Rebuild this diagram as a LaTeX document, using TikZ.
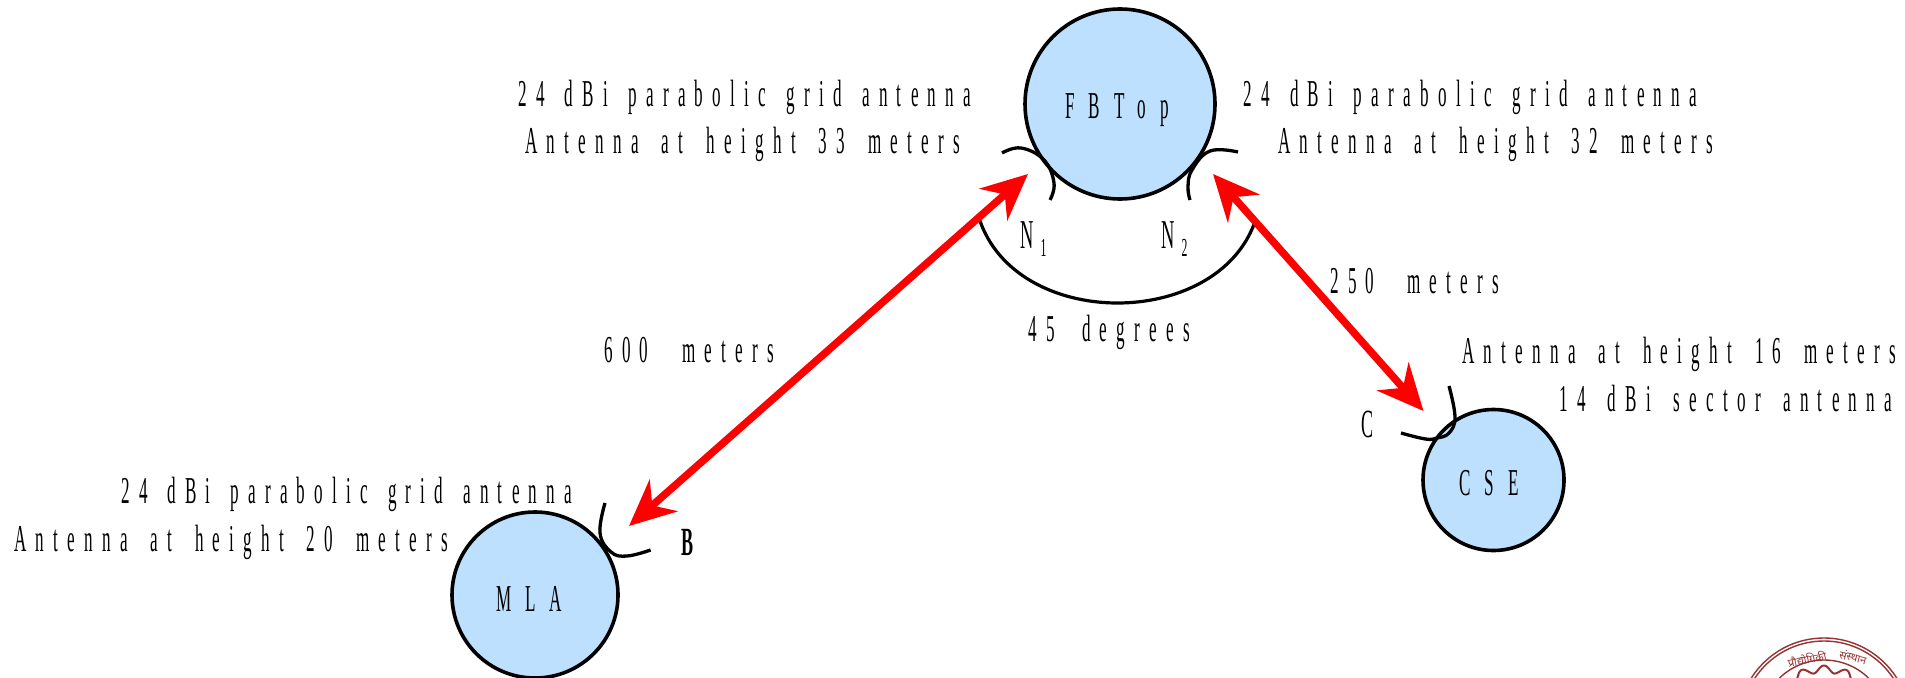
\documentclass[tikz,border=0pt]{standalone}
\usepackage{fontspec}
\setmainfont{Liberation Serif}
\newfontfamily\lbl[FakeStretch=0.45,LetterSpace=24.5]{Liberation Serif}
\newfontfamily\sitef[FakeStretch=0.45,LetterSpace=37]{Liberation Serif}
\newfontfamily\plainf[FakeStretch=0.45]{Liberation Serif}
\newfontfamily\hind[Script=Devanagari]{Noto Sans}
\usetikzlibrary{arrows.meta,calc}
\definecolor{sitefill}{RGB}{189,224,254}
\definecolor{logored}{RGB}{150,50,50}
\newcommand{\fitw}[2]{\makebox[#1pt][s]{#2}}
\tikzset{
 x=1pt,y=-1pt,
 site/.style={circle,draw=black,line width=3.6pt,fill=sitefill,inner sep=0pt},
 txt/.style={inner sep=0pt,font=\lbl\fontsize{38}{38}\selectfont,anchor=base west},
 sitetxt/.style={inner sep=0pt,font=\sitef\fontsize{38}{38}\selectfont,anchor=base west},
 dish/.style={draw=black,line width=3.3pt,line cap=butt},
 angarc/.style={draw=black,line width=3.2pt},
 link/.style={draw=red,line width=7.5pt,{Stealth[length=46pt,width=42pt,inset=15pt]}-{Stealth[length=46pt,width=42pt,inset=15pt]}},
 logo/.style={draw=logored,line width=1.4pt},
 logotxt/.style={inner sep=0pt,text=logored,font=\hind\fontsize{11}{11}\selectfont}
}
\begin{document}
\begin{tikzpicture}
\useasboundingbox (0,0) rectangle (1905,677);
\path[clip] (0,0) rectangle (1905,677);
% logo
\coordinate (lc) at (1824,724);
\draw[logo] (lc) circle (86);
\draw[logo] (lc) circle (83);
\draw[logo] (lc) circle (64);
\draw[logo,line width=2pt] plot[domain=-60:60,samples=180,smooth] ({1824+(55+3.5*cos(16*\x))*sin(\x)},{724-(55+3.5*cos(16*\x))*cos(\x)});
\node[logotxt,rotate=12] (lg1) at (1807,659) {प्रौद्योगिकी};
\node[logotxt,rotate=-14] (lg2) at (1853,657) {संस्थान};
% sites
\node[site,minimum size=190pt] (fb) at (1120,104) {};
\node[site,minimum size=166pt] (mla) at (535,595) {};
\node[site,minimum size=141pt] (cse) at (1493.5,480) {};
\node[sitetxt] (fbt) at (1065,118) {FBTop};
\node[sitetxt] (mlat) at (496,611) {MLA};
\node[sitetxt] (cset) at (1459,495) {CSE};
% anchors
\coordinate (a1) at (979,218);
\coordinate (a2) at (1254.5,223);
\coordinate (lm) at (629,526);
\coordinate (lf) at (1028,174);
\coordinate (rf) at (1213,174);
\coordinate (rc) at (1423.5,411);
% dishes
\draw[dish] plot[smooth,tension=.7] coordinates {(1002,153) (1021,148) (1044,160) (1054,183) (1050,200)};
\draw[dish] plot[smooth,tension=.7] coordinates {(1238,152) (1210,151) (1192,170) (1188,187) (1190,200)};
\draw[dish] plot[smooth,tension=.7] coordinates {(605,503) (600,533) (611,552) (627,556) (650.6,550)};
\draw[dish] plot[smooth,tension=.7] coordinates {(1449,386) (1455,417) (1449,433) (1437,438) (1425.5,439) (1401,433)};
% angle
\draw[angarc] (a1) .. controls (1015,330.5) and (1215,330.5) .. (a2);
% links
\draw[link] (lm) -- (lf);
\draw[link] (rf) -- (rc);
% labels
\node[txt] (t1) at (518,106) {\fitw{453}{24 dBi parabolic grid antenna}};
\node[txt] (t2) at (525,153) {\fitw{435}{Antenna at height 33 meters}};
\node[txt] (t3) at (1243,106) {\fitw{454}{24 dBi parabolic grid antenna}};
\node[txt] (t4) at (1278,153) {\fitw{435}{Antenna at height 32 meters}};
\node[txt,font=\lbl\fontsize{41}{41}\selectfont] (n1) at (1020,248) {N\hspace{7pt}\raisebox{-8pt}{\plainf\fontsize{26}{26}\selectfont 1}};
\node[txt,font=\lbl\fontsize{41}{41}\selectfont] (n2) at (1161,248) {N\hspace{7pt}\raisebox{-8pt}{\plainf\fontsize{26}{26}\selectfont 2}};
\node[txt] (t5) at (1028,341) {\fitw{162}{45 degrees}};
\node[txt] (t6) at (604,362) {\fitw{170}{600 meters}};
\node[txt] (t7) at (1330,293) {\fitw{169}{250 meters}};
\node[txt] (t8) at (1462,363) {\fitw{434}{Antenna at height 16 meters}};
\node[txt] (t9) at (1559,411) {\fitw{333}{14 dBi sector antenna}};
\node[txt] (t10) at (121,503) {\fitw{451}{24 dBi parabolic grid antenna}};
\node[txt] (t11) at (14,551) {\fitw{434}{Antenna at height 20 meters}};
\node[txt,font=\plainf\bfseries\fontsize{40}{40}\selectfont] (lb) at (681,555) {B};
\node[txt,font=\plainf\fontsize{40}{40}\selectfont] (lcc) at (1361,437) {C};
\end{tikzpicture}
\end{document}
